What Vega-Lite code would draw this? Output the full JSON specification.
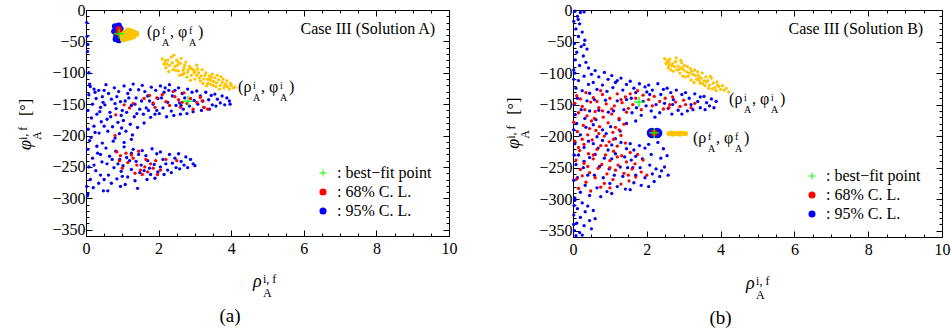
{
"$schema":"https://vega.github.io/schema/vega-lite/v6.json",
"padding":{"left":16,"top":1,"right":2,"bottom":4},
"config":{"font":"Liberation Serif","view":{"stroke":"#000","strokeWidth":1},
"axis":{"labelFont":"Liberation Serif","labelFontSize":16,"labelColor":"#000","tickColor":"#000","tickWidth":1,"domain":false,"grid":false,"labelFlush":false,"labelOverlap":false},
"legend":{"title":null,"labelFont":"Liberation Serif","labelFontSize":16,"labelColor":"#000","symbolSize":50,"rowPadding":3,"labelOffset":6,"padding":0,"symbolStrokeWidth":0},
"text":{"font":"Liberation Serif","color":"#000"}},
"datasets":{
"one":[{}],
"aB":[{"r":0.12,"p":-122},{"r":0.35,"p":-128},{"r":0.08,"p":-135},{"r":0.28,"p":-141},{"r":0.45,"p":-138},{"r":0.18,"p":-150},{"r":0.4,"p":-155},{"r":0.05,"p":-160},{"r":0.3,"p":-166},{"r":0.15,"p":-172},{"r":0.42,"p":-178},{"r":0.22,"p":-185},{"r":0.06,"p":-190},{"r":0.36,"p":-196},{"r":0.14,"p":-203},{"r":0.47,"p":-147},{"r":0.25,"p":-131},
{"r":0.55,"p":-119},{"r":0.78,"p":-124},{"r":0.62,"p":-133},{"r":0.9,"p":-130},{"r":0.7,"p":-142},{"r":0.95,"p":-146},{"r":0.52,"p":-151},{"r":0.83,"p":-157},{"r":0.66,"p":-163},{"r":0.97,"p":-168},{"r":0.58,"p":-174},{"r":0.88,"p":-179},{"r":0.73,"p":-186},{"r":0.6,"p":-193},{"r":0.92,"p":-197},{"r":0.8,"p":-204},{"r":0.68,"p":-170},{"r":0.98,"p":-188},
{"r":1.05,"p":-121},{"r":1.3,"p":-118},{"r":1.45,"p":-127},{"r":1.15,"p":-133},{"r":1.38,"p":-140},{"r":1.08,"p":-145},{"r":1.25,"p":-152},{"r":1.48,"p":-158},{"r":1.12,"p":-163},{"r":1.33,"p":-170},{"r":1.03,"p":-176},{"r":1.22,"p":-182},{"r":1.42,"p":-187},{"r":1.1,"p":-193},{"r":1.28,"p":-199},{"r":1.18,"p":-140},{"r":1.4,"p":-165},
{"r":1.55,"p":-120},{"r":1.8,"p":-123},{"r":1.62,"p":-130},{"r":1.92,"p":-128},{"r":1.7,"p":-137},{"r":1.98,"p":-141},{"r":1.53,"p":-145},{"r":1.85,"p":-150},{"r":1.66,"p":-156},{"r":1.95,"p":-160},{"r":1.58,"p":-166},{"r":1.78,"p":-171},{"r":1.9,"p":-166},{"r":1.6,"p":-180},{"r":1.72,"p":-160},
{"r":2.05,"p":-121},{"r":2.3,"p":-119},{"r":2.45,"p":-128},{"r":2.15,"p":-131},{"r":2.38,"p":-137},{"r":2.08,"p":-140},{"r":2.25,"p":-147},{"r":2.48,"p":-152},{"r":2.12,"p":-156},{"r":2.35,"p":-161},{"r":2.02,"p":-165},{"r":2.22,"p":-170},{"r":2.42,"p":-168},{"r":2.28,"p":-128},
{"r":2.55,"p":-124},{"r":2.8,"p":-126},{"r":2.65,"p":-133},{"r":2.92,"p":-131},{"r":2.72,"p":-140},{"r":2.98,"p":-144},{"r":2.58,"p":-148},{"r":2.85,"p":-153},{"r":2.68,"p":-158},{"r":2.95,"p":-162},{"r":2.6,"p":-166},{"r":2.78,"p":-165},
{"r":3.05,"p":-129},{"r":3.3,"p":-131},{"r":3.45,"p":-136},{"r":3.15,"p":-137},{"r":3.38,"p":-143},{"r":3.08,"p":-150},{"r":3.25,"p":-155},{"r":3.48,"p":-151},{"r":3.18,"p":-160},{"r":3.4,"p":-158},
{"r":3.55,"p":-134},{"r":3.75,"p":-137},{"r":3.62,"p":-142},{"r":3.88,"p":-140},{"r":3.7,"p":-148},{"r":3.95,"p":-145},{"r":3.58,"p":-153},{"r":3.82,"p":-151},{"r":3.97,"p":-150},
{"r":0.1,"p":-208},{"r":0.45,"p":-212},{"r":0.75,"p":-209},{"r":1.05,"p":-211},{"r":1.25,"p":-206},{"r":0.3,"p":-217},
{"r":0.05,"p":-222},{"r":0.32,"p":-228},{"r":0.18,"p":-236},{"r":0.44,"p":-242},{"r":0.08,"p":-250},{"r":0.27,"p":-256},{"r":0.4,"p":-263},{"r":0.12,"p":-270},{"r":0.35,"p":-276},{"r":0.2,"p":-283},{"r":0.48,"p":-288},{"r":0.05,"p":-293},
{"r":0.55,"p":-220},{"r":0.82,"p":-225},{"r":0.65,"p":-233},{"r":0.93,"p":-238},{"r":0.58,"p":-245},{"r":0.77,"p":-251},{"r":0.97,"p":-257},{"r":0.62,"p":-263},{"r":0.85,"p":-269},{"r":0.7,"p":-276},{"r":0.95,"p":-281},{"r":0.6,"p":-288},
{"r":1.05,"p":-218},{"r":1.3,"p":-222},{"r":1.45,"p":-230},{"r":1.12,"p":-235},{"r":1.38,"p":-241},{"r":1.02,"p":-248},{"r":1.25,"p":-254},{"r":1.48,"p":-259},{"r":1.15,"p":-266},{"r":1.35,"p":-272},{"r":1.08,"p":-278},{"r":1.42,"p":-284},
{"r":1.55,"p":-224},{"r":1.82,"p":-221},{"r":1.65,"p":-232},{"r":1.95,"p":-229},{"r":1.7,"p":-240},{"r":1.52,"p":-247},{"r":1.88,"p":-246},{"r":1.6,"p":-256},{"r":1.78,"p":-262},{"r":1.98,"p":-258},{"r":1.68,"p":-270},{"r":1.9,"p":-268},
{"r":2.05,"p":-226},{"r":2.3,"p":-230},{"r":2.45,"p":-236},{"r":2.12,"p":-238},{"r":2.38,"p":-244},{"r":2.05,"p":-250},{"r":2.25,"p":-255},{"r":2.48,"p":-251},{"r":2.15,"p":-262},{"r":2.35,"p":-259},
{"r":2.55,"p":-229},{"r":2.75,"p":-234},{"r":2.62,"p":-241},{"r":2.88,"p":-238},{"r":2.7,"p":-247},{"r":2.95,"p":-245},{"r":2.58,"p":-253},{"r":2.8,"p":-251},{"r":3.0,"p":-248},
{"r":0.02,"p":-20},{"r":0.03,"p":-42},{"r":0.05,"p":-55},{"r":0.04,"p":-66},{"r":0.08,"p":-100},{"r":0.1,"p":-118},{"r":0.02,"p":-281},{"r":0.04,"p":-296},
{"r":0.22,"p":-126},{"r":0.5,"p":-128},{"r":0.85,"p":-138},{"r":1.22,"p":-127},{"r":1.75,"p":-145},{"r":2.18,"p":-124},{"r":2.62,"p":-152},{"r":3.22,"p":-145},{"r":0.38,"p":-162},{"r":0.8,"p":-149},{"r":1.35,"p":-150},{"r":0.5,"p":-185},{"r":1.0,"p":-160},{"r":0.25,"p":-195},
{"r":0.22,"p":-247},{"r":0.88,"p":-245},{"r":1.2,"p":-240},{"r":1.75,"p":-252},{"r":0.5,"p":-270},{"r":1.0,"p":-265},{"r":2.2,"p":-245},{"r":0.72,"p":-238},{"r":1.25,"p":-228},{"r":0.4,"p":-230}],
"aR":[{"r":0.82,"p":-167},{"r":1.05,"p":-151},{"r":1.2,"p":-156},{"r":1.3,"p":-149},{"r":1.6,"p":-141},{"r":1.75,"p":-136},{"r":1.85,"p":-148},{"r":1.95,"p":-140},{"r":2.1,"p":-135},{"r":2.2,"p":-146},{"r":2.3,"p":-152},{"r":2.45,"p":-138},{"r":2.55,"p":-143},{"r":2.6,"p":-155},{"r":2.7,"p":-132},{"r":2.78,"p":-149},{"r":2.88,"p":-141},{"r":2.95,"p":-158},{"r":3.05,"p":-147},{"r":3.15,"p":-139},{"r":3.25,"p":-155},{"r":3.35,"p":-158},{"r":3.2,"p":-145},{"r":2.4,"p":-130},{"r":1.9,"p":-155},{"r":2.65,"p":-147},
{"r":0.8,"p":-200},{"r":0.85,"p":-226},{"r":0.92,"p":-240},{"r":0.95,"p":-232},{"r":1.1,"p":-228},{"r":1.15,"p":-243},{"r":1.25,"p":-231},{"r":1.3,"p":-236},{"r":1.4,"p":-247},{"r":1.5,"p":-255},{"r":1.55,"p":-262},{"r":1.62,"p":-250},{"r":1.7,"p":-258},{"r":1.78,"p":-245},{"r":1.85,"p":-252},{"r":1.92,"p":-240},{"r":1.97,"p":-262},{"r":2.05,"p":-255},{"r":1.65,"p":-238},{"r":1.45,"p":-225},{"r":2.2,"p":-238},{"r":2.5,"p":-240},{"r":1.0,"p":-252},{"r":1.35,"p":-260}],
"aY":[{"r":2.1,"p":-78},{"r":2.15,"p":-86},{"r":2.2,"p":-92},{"r":2.25,"p":-80},{"r":2.3,"p":-88},{"r":2.35,"p":-75},{"r":2.4,"p":-95},{"r":2.28,"p":-98},{"r":2.18,"p":-81},{"r":2.38,"p":-84},{"r":2.42,"p":-72},
{"r":2.45,"p":-90},{"r":2.5,"p":-80},{"r":2.55,"p":-97},{"r":2.6,"p":-85},{"r":2.65,"p":-103},{"r":2.7,"p":-92},{"r":2.75,"p":-83},{"r":2.8,"p":-99},{"r":2.52,"p":-88},{"r":2.62,"p":-77},{"r":2.68,"p":-96},{"r":2.78,"p":-107},{"r":2.58,"p":-104},{"r":2.72,"p":-88},
{"r":2.85,"p":-90},{"r":2.9,"p":-104},{"r":2.95,"p":-95},{"r":3.0,"p":-110},{"r":3.05,"p":-88},{"r":3.1,"p":-100},{"r":3.15,"p":-113},{"r":3.2,"p":-95},{"r":2.88,"p":-112},{"r":2.98,"p":-100},{"r":3.08,"p":-94},{"r":3.18,"p":-105},{"r":2.82,"p":-95},{"r":3.12,"p":-108},{"r":3.0,"p":-97},
{"r":3.25,"p":-110},{"r":3.3,"p":-100},{"r":3.35,"p":-117},{"r":3.4,"p":-105},{"r":3.45,"p":-112},{"r":3.5,"p":-120},{"r":3.55,"p":-108},{"r":3.6,"p":-116},{"r":3.28,"p":-104},{"r":3.38,"p":-111},{"r":3.48,"p":-102},{"r":3.58,"p":-122},{"r":3.32,"p":-121},{"r":3.42,"p":-118},{"r":3.52,"p":-114},
{"r":3.65,"p":-111},{"r":3.7,"p":-120},{"r":3.75,"p":-115},{"r":3.8,"p":-124},{"r":3.85,"p":-118},{"r":3.9,"p":-122},{"r":3.95,"p":-126},{"r":4.0,"p":-120},{"r":4.05,"p":-124},{"r":4.1,"p":-123},{"r":3.68,"p":-126},{"r":3.78,"p":-110},{"r":3.88,"p":-113},{"r":3.98,"p":-117},{"r":3.72,"p":-106},{"r":3.62,"p":-104},
{"r":2.22,"p":-86},{"r":2.48,"p":-96},{"r":2.9,"p":-93},{"r":3.22,"p":-117},{"r":3.45,"p":-107},{"r":2.7,"p":-101},{"r":3.05,"p":-104},{"r":2.55,"p":-84},{"r":3.35,"p":-110},{"r":3.82,"p":-120}],
"aBb":[{"r":0.8,"p":-26},{"r":0.9,"p":-25},{"r":0.78,"p":-34},{"r":0.84,"p":-40},{"r":0.82,"p":-46},{"r":0.9,"p":-48},{"r":0.98,"p":-45},{"r":0.95,"p":-30},{"r":0.88,"p":-33},{"r":0.86,"p":-42}],
"aRb":[{"r":0.9,"p":-30},{"r":0.92,"p":-35},{"r":0.88,"p":-37}],
"aYb":[{"r":1.0,"p":-40},{"r":1.08,"p":-36},{"r":1.16,"p":-33},{"r":1.24,"p":-34},{"r":1.32,"p":-36},{"r":1.38,"p":-38},{"r":1.3,"p":-42},{"r":1.2,"p":-44},{"r":1.1,"p":-45},{"r":1.02,"p":-46},{"r":1.15,"p":-40},{"r":1.25,"p":-39}],
"aX":[{"r":0.91,"p":-38},{"r":2.81,"p":-145}],
"bB":[{"r":0.05,"p":-2},{"r":0.2,"p":-4},{"r":0.3,"p":-3},{"r":0.12,"p":-10},{"r":0.02,"p":-18},{"r":0.18,"p":-22},{"r":0.08,"p":-30},{"r":0.25,"p":-35},{"r":0.15,"p":-42},{"r":0.32,"p":-48},{"r":0.04,"p":-53},{"r":0.22,"p":-58},{"r":0.38,"p":-62},{"r":0.1,"p":-67},{"r":0.28,"p":-73},{"r":0.06,"p":-79},{"r":0.35,"p":-83},{"r":0.18,"p":-88},{"r":0.42,"p":-92},{"r":0.02,"p":-95},{"r":0.3,"p":-55},{"r":0.14,"p":-15},
{"r":0.05,"p":-100},{"r":0.3,"p":-105},{"r":0.15,"p":-112},{"r":0.42,"p":-118},{"r":0.08,"p":-124},{"r":0.25,"p":-128},{"r":0.45,"p":-132},{"r":0.12,"p":-140},{"r":0.38,"p":-144},{"r":0.22,"p":-158},{"r":0.06,"p":-166},{"r":0.32,"p":-172},{"r":0.45,"p":-160},
{"r":0.6,"p":-96},{"r":0.85,"p":-99},{"r":0.7,"p":-106},{"r":0.95,"p":-110},{"r":0.55,"p":-115},{"r":0.8,"p":-119},{"r":0.65,"p":-126},{"r":0.92,"p":-129},{"r":0.58,"p":-142},{"r":0.88,"p":-143},{"r":0.7,"p":-159},{"r":0.96,"p":-162},{"r":0.62,"p":-174},
{"r":1.05,"p":-104},{"r":1.3,"p":-108},{"r":1.15,"p":-115},{"r":1.45,"p":-118},{"r":1.08,"p":-123},{"r":1.35,"p":-127},{"r":1.2,"p":-144},{"r":1.45,"p":-142},{"r":1.1,"p":-160},{"r":1.38,"p":-158},{"r":1.25,"p":-174},
{"r":1.55,"p":-113},{"r":1.8,"p":-117},{"r":1.65,"p":-124},{"r":1.95,"p":-122},{"r":1.7,"p":-131},{"r":1.58,"p":-140},{"r":1.9,"p":-145},{"r":1.72,"p":-155},{"r":1.98,"p":-152},{"r":1.6,"p":-163},{"r":1.85,"p":-167},{"r":1.7,"p":-176},
{"r":2.05,"p":-119},{"r":2.3,"p":-117},{"r":2.45,"p":-126},{"r":2.15,"p":-127},{"r":2.38,"p":-134},{"r":2.08,"p":-134},{"r":2.25,"p":-150},{"r":2.48,"p":-148},{"r":2.12,"p":-160},{"r":2.35,"p":-163},{"r":2.22,"p":-170},
{"r":2.55,"p":-124},{"r":2.8,"p":-127},{"r":2.65,"p":-131},{"r":2.95,"p":-134},{"r":2.72,"p":-142},{"r":2.58,"p":-156},{"r":2.85,"p":-159},{"r":2.68,"p":-165},{"r":2.95,"p":-165},
{"r":3.05,"p":-131},{"r":3.3,"p":-133},{"r":3.45,"p":-138},{"r":3.15,"p":-140},{"r":3.38,"p":-145},{"r":3.1,"p":-160},{"r":3.25,"p":-158},{"r":3.45,"p":-155},
{"r":3.55,"p":-137},{"r":3.75,"p":-141},{"r":3.62,"p":-147},{"r":3.88,"p":-145},{"r":3.7,"p":-152},{"r":3.58,"p":-158},{"r":3.82,"p":-155},
{"r":0.1,"p":-180},{"r":0.35,"p":-186},{"r":0.55,"p":-182},{"r":0.8,"p":-190},{"r":1.02,"p":-185},{"r":1.28,"p":-192},{"r":1.45,"p":-180},{"r":0.2,"p":-198},{"r":0.65,"p":-201},{"r":1.15,"p":-204},{"r":0.42,"p":-208},{"r":0.9,"p":-196},
{"r":0.05,"p":-212},{"r":0.3,"p":-218},{"r":0.15,"p":-230},{"r":0.45,"p":-234},{"r":0.08,"p":-245},{"r":0.28,"p":-250},{"r":0.4,"p":-262},{"r":0.12,"p":-266},{"r":0.33,"p":-278},{"r":0.2,"p":-289},{"r":0.45,"p":-294},{"r":0.05,"p":-298},
{"r":0.55,"p":-212},{"r":0.8,"p":-207},{"r":0.68,"p":-219},{"r":0.95,"p":-222},{"r":0.6,"p":-229},{"r":0.85,"p":-235},{"r":0.72,"p":-248},{"r":0.98,"p":-252},{"r":0.58,"p":-262},{"r":0.82,"p":-266},{"r":0.65,"p":-282},{"r":0.92,"p":-288},{"r":0.75,"p":-296},
{"r":1.05,"p":-214},{"r":1.3,"p":-210},{"r":1.45,"p":-220},{"r":1.15,"p":-228},{"r":1.4,"p":-233},{"r":1.05,"p":-236},{"r":1.28,"p":-249},{"r":1.48,"p":-250},{"r":1.12,"p":-262},{"r":1.35,"p":-264},{"r":1.2,"p":-280},{"r":1.42,"p":-284},{"r":1.05,"p":-291},
{"r":1.55,"p":-212},{"r":1.8,"p":-215},{"r":1.65,"p":-222},{"r":1.95,"p":-219},{"r":1.7,"p":-232},{"r":1.58,"p":-238},{"r":1.88,"p":-236},{"r":1.62,"p":-250},{"r":1.82,"p":-250},{"r":1.95,"p":-266},{"r":1.65,"p":-274},{"r":1.85,"p":-278},{"r":1.55,"p":-285},
{"r":2.05,"p":-213},{"r":2.3,"p":-210},{"r":2.45,"p":-220},{"r":2.12,"p":-229},{"r":2.38,"p":-235},{"r":2.55,"p":-231},{"r":2.08,"p":-246},{"r":2.25,"p":-252},{"r":2.48,"p":-249},{"r":2.15,"p":-260},{"r":2.35,"p":-264},{"r":2.58,"p":-262},{"r":2.2,"p":-272},{"r":2.05,"p":-280},
{"r":0.05,"p":-302},{"r":0.25,"p":-306},{"r":0.4,"p":-311},{"r":0.12,"p":-315},{"r":0.33,"p":-320},{"r":0.55,"p":-318},{"r":0.02,"p":-325},{"r":0.2,"p":-329},{"r":0.45,"p":-334},{"r":0.1,"p":-338},{"r":0.3,"p":-342},{"r":0.5,"p":-347},{"r":0.04,"p":-350},{"r":0.18,"p":-353},{"r":0.08,"p":-358},{"r":0.25,"p":-357},{"r":0.6,"p":-331},
{"r":0.02,"p":-110},{"r":0.03,"p":-150},{"r":0.02,"p":-190},{"r":0.03,"p":-230},{"r":0.02,"p":-270},{"r":0.03,"p":-310},{"r":0.02,"p":-340},{"r":0.5,"p":-102},{"r":1.2,"p":-112},{"r":2.0,"p":-130},{"r":2.7,"p":-150},{"r":3.2,"p":-150},{"r":0.3,"p":-240},{"r":1.0,"p":-275},{"r":1.7,"p":-262},{"r":2.4,"p":-255}],
"bR":[{"r":1.55,"p":-133},{"r":1.7,"p":-140},{"r":1.9,"p":-135},{"r":2.05,"p":-142},{"r":2.2,"p":-137},{"r":2.35,"p":-145},{"r":2.5,"p":-140},{"r":2.62,"p":-150},{"r":2.78,"p":-146},{"r":2.9,"p":-153},{"r":3.05,"p":-150},{"r":3.2,"p":-155},{"r":3.3,"p":-148},{"r":2.15,"p":-152},{"r":2.45,"p":-157},{"r":1.62,"p":-150},{"r":1.85,"p":-158},{"r":2.7,"p":-138},{"r":3.0,"p":-143},{"r":1.75,"p":-128},
{"r":0.1,"p":-136},{"r":0.35,"p":-131},{"r":0.55,"p":-139},{"r":0.8,"p":-134},{"r":1.0,"p":-140},{"r":1.2,"p":-133},{"r":1.42,"p":-138},
{"r":0.05,"p":-148},{"r":0.25,"p":-153},{"r":0.48,"p":-146},{"r":0.7,"p":-155},{"r":0.9,"p":-149},{"r":1.12,"p":-152},{"r":1.33,"p":-147},{"r":1.5,"p":-156},
{"r":0.15,"p":-163},{"r":0.38,"p":-168},{"r":0.6,"p":-161},{"r":0.82,"p":-170},{"r":1.05,"p":-165},{"r":1.25,"p":-172},{"r":1.45,"p":-162},
{"r":0.02,"p":-178},{"r":0.28,"p":-183},{"r":0.5,"p":-176},{"r":0.72,"p":-185},{"r":0.95,"p":-179},{"r":1.15,"p":-186},{"r":1.38,"p":-181},
{"r":0.12,"p":-193},{"r":0.4,"p":-198},{"r":0.62,"p":-191},{"r":0.85,"p":-200},{"r":1.08,"p":-194},{"r":1.3,"p":-199},
{"r":0.05,"p":-208},{"r":0.3,"p":-213},{"r":0.52,"p":-206},{"r":0.75,"p":-215},{"r":0.98,"p":-209},{"r":1.2,"p":-216},{"r":1.42,"p":-211},
{"r":0.18,"p":-223},{"r":0.42,"p":-228},{"r":0.65,"p":-221},{"r":0.88,"p":-230},{"r":1.1,"p":-224},{"r":1.32,"p":-231},{"r":1.55,"p":-226},{"r":1.75,"p":-229},
{"r":0.08,"p":-238},{"r":0.3,"p":-243},{"r":0.55,"p":-236},{"r":0.78,"p":-245},{"r":1.0,"p":-239},{"r":1.22,"p":-246},{"r":1.45,"p":-241},{"r":1.68,"p":-244},{"r":1.9,"p":-238},
{"r":0.2,"p":-253},{"r":0.45,"p":-258},{"r":0.68,"p":-251},{"r":0.92,"p":-260},{"r":1.15,"p":-254},{"r":1.38,"p":-259},{"r":1.6,"p":-252},{"r":1.85,"p":-257},{"r":2.0,"p":-262},
{"r":0.1,"p":-268},{"r":0.35,"p":-273},{"r":0.6,"p":-266},{"r":0.85,"p":-275},{"r":1.08,"p":-269},{"r":1.3,"p":-276},{"r":1.52,"p":-271},
{"r":0.15,"p":-283},{"r":0.48,"p":-287},{"r":0.75,"p":-281},
{"r":0.2,"p":-141},{"r":0.65,"p":-145},{"r":1.05,"p":-157},{"r":0.45,"p":-188},{"r":0.9,"p":-215},{"r":1.2,"p":-233},{"r":0.4,"p":-248},{"r":1.7,"p":-265},{"r":0.25,"p":-205},{"r":1.0,"p":-282},{"r":0.75,"p":-128},{"r":1.25,"p":-190},
{"r":0.32,"p":-158},{"r":0.58,"p":-172},{"r":0.8,"p":-160},{"r":1.3,"p":-142},{"r":0.15,"p":-218},{"r":0.55,"p":-230},{"r":1.0,"p":-250},{"r":1.5,"p":-262},{"r":0.25,"p":-263},{"r":0.7,"p":-196},{"r":1.1,"p":-205},{"r":2.6,"p":-155}],
"bY":[{"r":2.48,"p":-77},{"r":2.52,"p":-85},{"r":2.58,"p":-92},{"r":2.62,"p":-78},{"r":2.68,"p":-88},{"r":2.72,"p":-97},{"r":2.78,"p":-82},{"r":2.55,"p":-80},{"r":2.65,"p":-95},{"r":2.75,"p":-90},{"r":2.8,"p":-76},{"r":2.6,"p":-83},
{"r":2.85,"p":-89},{"r":2.9,"p":-100},{"r":2.95,"p":-84},{"r":3.0,"p":-95},{"r":3.05,"p":-106},{"r":3.1,"p":-90},{"r":3.15,"p":-100},{"r":3.2,"p":-111},{"r":2.88,"p":-94},{"r":2.98,"p":-105},{"r":3.08,"p":-98},{"r":3.18,"p":-93},{"r":2.92,"p":-80},{"r":3.02,"p":-88},
{"r":3.25,"p":-102},{"r":3.3,"p":-95},{"r":3.35,"p":-110},{"r":3.4,"p":-104},{"r":3.45,"p":-116},{"r":3.5,"p":-100},{"r":3.55,"p":-112},{"r":3.6,"p":-106},{"r":3.28,"p":-115},{"r":3.38,"p":-98},{"r":3.48,"p":-108},{"r":3.58,"p":-120},{"r":3.22,"p":-97},{"r":3.42,"p":-112},
{"r":3.65,"p":-112},{"r":3.7,"p":-119},{"r":3.75,"p":-108},{"r":3.8,"p":-116},{"r":3.85,"p":-123},{"r":3.9,"p":-114},{"r":3.95,"p":-121},{"r":4.0,"p":-126},{"r":4.05,"p":-120},{"r":4.1,"p":-127},{"r":4.15,"p":-124},{"r":4.22,"p":-130},{"r":3.68,"p":-124},{"r":3.78,"p":-125},{"r":3.88,"p":-128},{"r":3.72,"p":-105},
{"r":2.7,"p":-85},{"r":2.82,"p":-95},{"r":3.12,"p":-105},{"r":3.32,"p":-104},{"r":3.52,"p":-117},{"r":2.95,"p":-92},{"r":3.62,"p":-114},{"r":3.92,"p":-119},{"r":2.6,"p":-88},{"r":3.4,"p":-109}],
"bBb":[{"r":2.14,"p":-195},{"r":2.28,"p":-195}],
"bRb":[{"r":2.2,"p":-195}],
"bYb":[{"r":2.6,"p":-196},{"r":2.68,"p":-195},{"r":2.76,"p":-196},{"r":2.84,"p":-196},{"r":2.92,"p":-195},{"r":3.0,"p":-196},{"r":3.05,"p":-196},{"r":2.7,"p":-197},{"r":2.9,"p":-197}],
"bX":[{"r":1.79,"p":-146},{"r":2.2,"p":-195}]
},
"spacing":46,
"resolve":{"scale":{"color":"independent","shape":"independent"}},
"hconcat":[
{"width":363,"height":226,
"title":{"text":"(a)","orient":"bottom","frame":"bounds","anchor":"middle","fontSize":19,"fontWeight":"normal","font":"Liberation Serif","color":"#000","offset":8,"dx":-7},
"resolve":{"axis":{"x":"independent","y":"independent"}},
"layer":[
{"data":{"name":"aB"},"mark":{"type":"point","filled":true,"size":11,"opacity":1},
"encoding":{"x":{"field":"r","type":"quantitative","scale":{"domain":[0,10],"nice":false,"zero":false},"axis":{"orient":"bottom","values":[0,2,4,6,8,10],"tickSize":-6,"labelPadding":10,"title":null}},
"y":{"field":"p","type":"quantitative","scale":{"domain":[-360,0],"nice":false,"zero":false},"axis":{"orient":"left","values":[0,-50,-100,-150,-200,-250,-300,-350],"tickSize":-6,"labelPadding":7,"title":null}},
"color":{"datum":"95% C. L.","scale":{"domain":["best−fit point","68% C. L.","95% C. L."],"range":["#00ff00","#ff0000","#0000ff"]},"legend":{"orient":"none","legendX":229,"legendY":155,"labelExpr":"': ' + datum.label"}},
"shape":{"datum":"95% C. L.","scale":{"domain":["best−fit point","68% C. L.","95% C. L."],"range":["M-1,-0.13H1V0.13H-1ZM-0.13,-1H0.13V1H-0.13Z","circle","circle"]},"legend":{"orient":"none","legendX":229,"legendY":155,"labelExpr":"': ' + datum.label"}}}},
{"data":{"name":"aR"},"mark":{"type":"point","filled":true,"size":11,"opacity":1},
"encoding":{"x":{"field":"r","type":"quantitative","axis":{"orient":"top","values":[0,2,4,6,8,10],"tickSize":-6,"labels":false,"title":null}},
"y":{"field":"p","type":"quantitative","axis":{"orient":"right","values":[0,-50,-100,-150,-200,-250,-300,-350],"tickSize":-6,"labels":false,"title":null}},
"color":{"datum":"68% C. L."},"shape":{"datum":"68% C. L."}}},
{"data":{"name":"aY"},"mark":{"type":"point","filled":true,"size":11,"opacity":1,"color":"#ffc400"},
"encoding":{"x":{"field":"r","type":"quantitative","axis":{"orient":"bottom","values":[0.5,1,1.5,2.5,3,3.5,4.5,5,5.5,6.5,7,7.5,8.5,9,9.5],"tickSize":-3,"labels":false,"title":null}},
"y":{"field":"p","type":"quantitative","axis":{"orient":"left","values":[-10,-20,-30,-40,-60,-70,-80,-90,-110,-120,-130,-140,-160,-170,-180,-190,-210,-220,-230,-240,-260,-270,-280,-290,-310,-320,-330,-340],"tickSize":-3,"labels":false,"title":null}}}},
{"data":{"name":"aBb"},"mark":{"type":"point","filled":true,"size":40,"opacity":1,"color":"#0000ff"},
"encoding":{"x":{"field":"r","type":"quantitative","axis":{"orient":"top","values":[0.5,1,1.5,2.5,3,3.5,4.5,5,5.5,6.5,7,7.5,8.5,9,9.5],"tickSize":-3,"labels":false,"title":null}},
"y":{"field":"p","type":"quantitative","axis":{"orient":"right","values":[-10,-20,-30,-40,-60,-70,-80,-90,-110,-120,-130,-140,-160,-170,-180,-190,-210,-220,-230,-240,-260,-270,-280,-290,-310,-320,-330,-340],"tickSize":-3,"labels":false,"title":null}}}},
{"data":{"name":"aRb"},"mark":{"type":"point","filled":true,"size":35,"opacity":1,"color":"#ff0000"},
"encoding":{"x":{"field":"r","type":"quantitative","axis":null},"y":{"field":"p","type":"quantitative","axis":null}}},
{"data":{"name":"aYb"},"mark":{"type":"point","filled":true,"size":40,"opacity":1,"color":"#ffc400"},
"encoding":{"x":{"field":"r","type":"quantitative","axis":null},"y":{"field":"p","type":"quantitative","axis":null}}},
{"data":{"name":"aX"},"mark":{"type":"point","filled":true,"size":100,"opacity":1},
"encoding":{"x":{"field":"r","type":"quantitative","axis":null},"y":{"field":"p","type":"quantitative","axis":null},"color":{"datum":"best−fit point"},"shape":{"datum":"best−fit point"}}},
{"data":{"name":"one"},"mark":{"type":"text","text":"Case III (Solution A)","align":"right","baseline":"middle","fontSize":16},
"encoding":{"x":{"datum":9.62,"type":"quantitative","axis":null},"y":{"datum":-30,"type":"quantitative","axis":null}}},
{"data":{"name":"one"},"mark":{"type":"text","text":"(ρ","align":"left","baseline":"middle","fontSize":16},"encoding":{"x":{"datum":1.68,"type":"quantitative","axis":null},"y":{"datum":-35,"type":"quantitative","axis":null}}},
{"data":{"name":"one"},"mark":{"type":"text","text":["f","A"],"align":"left","baseline":"middle","fontSize":10,"lineHeight":12,"dx":15,"dy":-1},"encoding":{"x":{"datum":1.68,"type":"quantitative","axis":null},"y":{"datum":-35,"type":"quantitative","axis":null}}},
{"data":{"name":"one"},"mark":{"type":"text","text":", φ","align":"left","baseline":"middle","fontSize":16,"dx":23},"encoding":{"x":{"datum":1.68,"type":"quantitative","axis":null},"y":{"datum":-35,"type":"quantitative","axis":null}}},
{"data":{"name":"one"},"mark":{"type":"text","text":["f","A"],"align":"left","baseline":"middle","fontSize":10,"lineHeight":12,"dx":42,"dy":-1},"encoding":{"x":{"datum":1.68,"type":"quantitative","axis":null},"y":{"datum":-35,"type":"quantitative","axis":null}}},
{"data":{"name":"one"},"mark":{"type":"text","text":")","align":"left","baseline":"middle","fontSize":16,"dx":51},"encoding":{"x":{"datum":1.68,"type":"quantitative","axis":null},"y":{"datum":-35,"type":"quantitative","axis":null}}},
{"data":{"name":"one"},"mark":{"type":"text","text":"(ρ","align":"left","baseline":"middle","fontSize":16},"encoding":{"x":{"datum":4.19,"type":"quantitative","axis":null},"y":{"datum":-123,"type":"quantitative","axis":null}}},
{"data":{"name":"one"},"mark":{"type":"text","text":["i","A"],"align":"left","baseline":"middle","fontSize":10,"lineHeight":12,"dx":15,"dy":-1},"encoding":{"x":{"datum":4.19,"type":"quantitative","axis":null},"y":{"datum":-123,"type":"quantitative","axis":null}}},
{"data":{"name":"one"},"mark":{"type":"text","text":", φ","align":"left","baseline":"middle","fontSize":16,"dx":23},"encoding":{"x":{"datum":4.19,"type":"quantitative","axis":null},"y":{"datum":-123,"type":"quantitative","axis":null}}},
{"data":{"name":"one"},"mark":{"type":"text","text":["i","A"],"align":"left","baseline":"middle","fontSize":10,"lineHeight":12,"dx":42,"dy":-1},"encoding":{"x":{"datum":4.19,"type":"quantitative","axis":null},"y":{"datum":-123,"type":"quantitative","axis":null}}},
{"data":{"name":"one"},"mark":{"type":"text","text":")","align":"left","baseline":"middle","fontSize":16,"dx":51},"encoding":{"x":{"datum":4.19,"type":"quantitative","axis":null},"y":{"datum":-123,"type":"quantitative","axis":null}}},
{"data":{"name":"one"},"mark":{"type":"text","text":"ρ","align":"left","baseline":"middle","fontSize":18,"fontStyle":"italic"},"encoding":{"x":{"datum":4.6,"type":"quantitative","axis":null},"y":{"datum":-433,"type":"quantitative","axis":null}}},
{"data":{"name":"one"},"mark":{"type":"text","text":["i, f","A"],"align":"left","baseline":"middle","fontSize":12,"lineHeight":14,"dx":10,"dy":-3},"encoding":{"x":{"datum":4.6,"type":"quantitative","axis":null},"y":{"datum":-433,"type":"quantitative","axis":null}}},
{"data":{"name":"one"},"mark":{"type":"text","text":"φ","align":"left","baseline":"middle","fontSize":18,"fontStyle":"italic","angle":270},"encoding":{"x":{"datum":-1.65,"type":"quantitative","axis":null},"y":{"datum":-223,"type":"quantitative","axis":null}}},
{"data":{"name":"one"},"mark":{"type":"text","text":["i, f","A"],"align":"left","baseline":"middle","fontSize":12,"lineHeight":14,"angle":270,"dx":10,"dy":-3},"encoding":{"x":{"datum":-1.65,"type":"quantitative","axis":null},"y":{"datum":-223,"type":"quantitative","axis":null}}},
{"data":{"name":"one"},"mark":{"type":"text","text":"[°]","align":"left","baseline":"middle","fontSize":16,"angle":270,"dx":34},"encoding":{"x":{"datum":-1.65,"type":"quantitative","axis":null},"y":{"datum":-223,"type":"quantitative","axis":null}}}
]},
{"width":369,"height":227,
"title":{"text":"(b)","orient":"bottom","frame":"bounds","anchor":"middle","fontSize":19,"fontWeight":"normal","font":"Liberation Serif","color":"#000","offset":8,"dx":-7},
"resolve":{"axis":{"x":"independent","y":"independent"}},
"layer":[
{"data":{"name":"bB"},"mark":{"type":"point","filled":true,"size":11,"opacity":1},
"encoding":{"x":{"field":"r","type":"quantitative","scale":{"domain":[0,10],"nice":false,"zero":false},"axis":{"orient":"bottom","values":[0,2,4,6,8,10],"tickSize":-6,"labelPadding":10,"title":null}},
"y":{"field":"p","type":"quantitative","scale":{"domain":[-360,0],"nice":false,"zero":false},"axis":{"orient":"left","values":[0,-50,-100,-150,-200,-250,-300,-350],"tickSize":-6,"labelPadding":7,"title":null}},
"color":{"datum":"95% C. L.","scale":{"domain":["best−fit point","68% C. L.","95% C. L."],"range":["#00ff00","#ff0000","#0000ff"]},"legend":{"orient":"none","legendX":231,"legendY":158,"labelExpr":"': ' + datum.label"}},
"shape":{"datum":"95% C. L.","scale":{"domain":["best−fit point","68% C. L.","95% C. L."],"range":["M-1,-0.13H1V0.13H-1ZM-0.13,-1H0.13V1H-0.13Z","circle","circle"]},"legend":{"orient":"none","legendX":231,"legendY":158,"labelExpr":"': ' + datum.label"}}}},
{"data":{"name":"bR"},"mark":{"type":"point","filled":true,"size":11,"opacity":1},
"encoding":{"x":{"field":"r","type":"quantitative","axis":{"orient":"top","values":[0,2,4,6,8,10],"tickSize":-6,"labels":false,"title":null}},
"y":{"field":"p","type":"quantitative","axis":{"orient":"right","values":[0,-50,-100,-150,-200,-250,-300,-350],"tickSize":-6,"labels":false,"title":null}},
"color":{"datum":"68% C. L."},"shape":{"datum":"68% C. L."}}},
{"data":{"name":"bY"},"mark":{"type":"point","filled":true,"size":11,"opacity":1,"color":"#ffc400"},
"encoding":{"x":{"field":"r","type":"quantitative","axis":{"orient":"bottom","values":[0.5,1,1.5,2.5,3,3.5,4.5,5,5.5,6.5,7,7.5,8.5,9,9.5],"tickSize":-3,"labels":false,"title":null}},
"y":{"field":"p","type":"quantitative","axis":{"orient":"left","values":[-10,-20,-30,-40,-60,-70,-80,-90,-110,-120,-130,-140,-160,-170,-180,-190,-210,-220,-230,-240,-260,-270,-280,-290,-310,-320,-330,-340],"tickSize":-3,"labels":false,"title":null}}}},
{"data":{"name":"bBb"},"mark":{"type":"point","filled":true,"size":110,"opacity":1,"color":"#0000ff"},
"encoding":{"x":{"field":"r","type":"quantitative","axis":{"orient":"top","values":[0.5,1,1.5,2.5,3,3.5,4.5,5,5.5,6.5,7,7.5,8.5,9,9.5],"tickSize":-3,"labels":false,"title":null}},
"y":{"field":"p","type":"quantitative","axis":{"orient":"right","values":[-10,-20,-30,-40,-60,-70,-80,-90,-110,-120,-130,-140,-160,-170,-180,-190,-210,-220,-230,-240,-260,-270,-280,-290,-310,-320,-330,-340],"tickSize":-3,"labels":false,"title":null}}}},
{"data":{"name":"bRb"},"mark":{"type":"point","filled":true,"size":45,"opacity":1,"color":"#ff0000"},
"encoding":{"x":{"field":"r","type":"quantitative","axis":null},"y":{"field":"p","type":"quantitative","axis":null}}},
{"data":{"name":"bYb"},"mark":{"type":"point","filled":true,"size":25,"opacity":1,"color":"#ffc400"},
"encoding":{"x":{"field":"r","type":"quantitative","axis":null},"y":{"field":"p","type":"quantitative","axis":null}}},
{"data":{"name":"bX"},"mark":{"type":"point","filled":true,"size":100,"opacity":1},
"encoding":{"x":{"field":"r","type":"quantitative","axis":null},"y":{"field":"p","type":"quantitative","axis":null},"color":{"datum":"best−fit point"},"shape":{"datum":"best−fit point"}}},
{"data":{"name":"one"},"mark":{"type":"text","text":"Case III (Solution B)","align":"right","baseline":"middle","fontSize":16},
"encoding":{"x":{"datum":9.49,"type":"quantitative","axis":null},"y":{"datum":-30,"type":"quantitative","axis":null}}},
{"data":{"name":"one"},"mark":{"type":"text","text":"(ρ","align":"left","baseline":"middle","fontSize":16},"encoding":{"x":{"datum":3.25,"type":"quantitative","axis":null},"y":{"datum":-203,"type":"quantitative","axis":null}}},
{"data":{"name":"one"},"mark":{"type":"text","text":["f","A"],"align":"left","baseline":"middle","fontSize":10,"lineHeight":12,"dx":15,"dy":-1},"encoding":{"x":{"datum":3.25,"type":"quantitative","axis":null},"y":{"datum":-203,"type":"quantitative","axis":null}}},
{"data":{"name":"one"},"mark":{"type":"text","text":", φ","align":"left","baseline":"middle","fontSize":16,"dx":23},"encoding":{"x":{"datum":3.25,"type":"quantitative","axis":null},"y":{"datum":-203,"type":"quantitative","axis":null}}},
{"data":{"name":"one"},"mark":{"type":"text","text":["f","A"],"align":"left","baseline":"middle","fontSize":10,"lineHeight":12,"dx":42,"dy":-1},"encoding":{"x":{"datum":3.25,"type":"quantitative","axis":null},"y":{"datum":-203,"type":"quantitative","axis":null}}},
{"data":{"name":"one"},"mark":{"type":"text","text":")","align":"left","baseline":"middle","fontSize":16,"dx":51},"encoding":{"x":{"datum":3.25,"type":"quantitative","axis":null},"y":{"datum":-203,"type":"quantitative","axis":null}}},
{"data":{"name":"one"},"mark":{"type":"text","text":"(ρ","align":"left","baseline":"middle","fontSize":16},"encoding":{"x":{"datum":4.23,"type":"quantitative","axis":null},"y":{"datum":-141,"type":"quantitative","axis":null}}},
{"data":{"name":"one"},"mark":{"type":"text","text":["i","A"],"align":"left","baseline":"middle","fontSize":10,"lineHeight":12,"dx":15,"dy":-1},"encoding":{"x":{"datum":4.23,"type":"quantitative","axis":null},"y":{"datum":-141,"type":"quantitative","axis":null}}},
{"data":{"name":"one"},"mark":{"type":"text","text":", φ","align":"left","baseline":"middle","fontSize":16,"dx":23},"encoding":{"x":{"datum":4.23,"type":"quantitative","axis":null},"y":{"datum":-141,"type":"quantitative","axis":null}}},
{"data":{"name":"one"},"mark":{"type":"text","text":["i","A"],"align":"left","baseline":"middle","fontSize":10,"lineHeight":12,"dx":42,"dy":-1},"encoding":{"x":{"datum":4.23,"type":"quantitative","axis":null},"y":{"datum":-141,"type":"quantitative","axis":null}}},
{"data":{"name":"one"},"mark":{"type":"text","text":")","align":"left","baseline":"middle","fontSize":16,"dx":51},"encoding":{"x":{"datum":4.23,"type":"quantitative","axis":null},"y":{"datum":-141,"type":"quantitative","axis":null}}},
{"data":{"name":"one"},"mark":{"type":"text","text":"ρ","align":"left","baseline":"middle","fontSize":18,"fontStyle":"italic"},"encoding":{"x":{"datum":4.69,"type":"quantitative","axis":null},"y":{"datum":-434,"type":"quantitative","axis":null}}},
{"data":{"name":"one"},"mark":{"type":"text","text":["i, f","A"],"align":"left","baseline":"middle","fontSize":12,"lineHeight":14,"dx":10,"dy":-3},"encoding":{"x":{"datum":4.69,"type":"quantitative","axis":null},"y":{"datum":-434,"type":"quantitative","axis":null}}},
{"data":{"name":"one"},"mark":{"type":"text","text":"φ","align":"left","baseline":"middle","fontSize":18,"fontStyle":"italic","angle":270},"encoding":{"x":{"datum":-1.6,"type":"quantitative","axis":null},"y":{"datum":-220,"type":"quantitative","axis":null}}},
{"data":{"name":"one"},"mark":{"type":"text","text":["i, f","A"],"align":"left","baseline":"middle","fontSize":12,"lineHeight":14,"angle":270,"dx":10,"dy":-3},"encoding":{"x":{"datum":-1.6,"type":"quantitative","axis":null},"y":{"datum":-220,"type":"quantitative","axis":null}}},
{"data":{"name":"one"},"mark":{"type":"text","text":"[°]","align":"left","baseline":"middle","fontSize":16,"angle":270,"dx":34},"encoding":{"x":{"datum":-1.6,"type":"quantitative","axis":null},"y":{"datum":-220,"type":"quantitative","axis":null}}}
]}
]
}
